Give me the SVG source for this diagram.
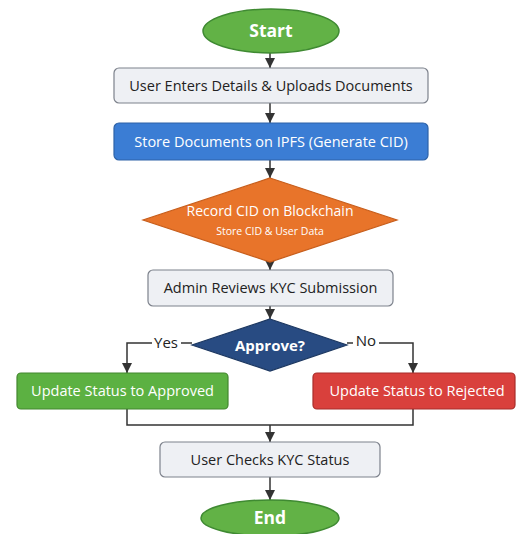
<svg xmlns="http://www.w3.org/2000/svg" width="517" height="534" viewBox="0 0 517 534">
<defs>
<marker id="ah" viewBox="0 0 10 10" refX="10" refY="5" markerWidth="10" markerHeight="10" markerUnits="userSpaceOnUse" orient="auto">
<path d="M0,0 L10,5 L0,10 z" fill="#333"/>
</marker>
</defs>
<style>
text{font-family:"Open Sans","Noto Sans","Liberation Sans",sans-serif;text-anchor:middle;}
.gray{fill:#eef0f4;stroke:#7d828c;stroke-width:1.2;}
.dark{fill:#222;font-size:14.5px;}
.white{fill:#fff;font-size:14.5px;}
.conn{fill:none;stroke:#333;stroke-width:1.5;}
.arr{marker-end:url(#ah);}
.oval{fill:#62b246;stroke:#3f8a32;stroke-width:1.5;}
</style>
<rect width="517" height="534" fill="#fff"/>
<g id="connectors">
<line class="conn arr" x1="270" y1="53" x2="270" y2="68"/>
<line class="conn arr" x1="270" y1="103" x2="270" y2="123"/>
<line class="conn arr" x1="270" y1="160" x2="270" y2="178"/>
<line class="conn arr" x1="270" y1="262" x2="270" y2="270"/>
<line class="conn arr" x1="270" y1="306" x2="270" y2="319"/>
<polyline class="conn" points="192,343 181,343"/>
<polyline class="conn arr" points="152,343 127,343 127,373"/>
<polyline class="conn" points="347,343 353,343"/>
<polyline class="conn arr" points="379,343 413,343 413,373"/>
<polyline class="conn" points="127,409 127,425 413,425 413,409"/>
<line class="conn arr" x1="270" y1="425" x2="270" y2="442"/>
<line class="conn arr" x1="270" y1="477" x2="270" y2="500"/>
<text x="166" y="348" class="dark" style="font-size:15px">Yes</text>
<text x="366" y="346" class="dark" style="font-size:15px">No</text>
</g>
<g id="start">
<ellipse class="oval" cx="271" cy="31" rx="68" ry="22"/>
<text x="271" y="37" style="fill:#fff;font-size:17.5px;font-weight:bold">Start</text>
</g>
<g id="enter">
<rect class="gray" x="114" y="68" width="314" height="35" rx="5"/>
<text x="271" y="90.5" class="dark">User Enters Details &amp; Uploads Documents</text>
</g>
<g id="ipfs">
<rect x="114" y="123" width="314" height="37" rx="5" fill="#3b7dd4" stroke="#2e63a8" stroke-width="1.2"/>
<text x="271" y="146.5" class="white">Store Documents on IPFS (Generate CID)</text>
</g>
<g id="record">
<polygon points="270,178 397,220 270,262 143,220" fill="#e8742a" stroke="#c75e1c" stroke-width="1.2"/>
<text x="270" y="216" class="white" style="font-size:14px">Record CID on Blockchain</text>
<text x="270" y="235" class="white" style="font-size:10.5px">Store CID &amp; User Data</text>
</g>
<g id="admin">
<rect class="gray" x="148" y="270" width="245" height="36" rx="5"/>
<text x="270.5" y="293" class="dark">Admin Reviews KYC Submission</text>
</g>
<g id="approve">
<polygon points="270,319 347,345 270,371 192,345" fill="#284b82" stroke="#1d3861" stroke-width="1.2"/>
<text x="270" y="351" class="white" style="font-size:15px;font-weight:bold">Approve?</text>
</g>
<g id="approved">
<rect x="17" y="373" width="211" height="36" rx="4" fill="#5cb142" stroke="#43872f" stroke-width="1.2"/>
<text x="122.5" y="396" class="white">Update Status to Approved</text>
</g>
<g id="rejected">
<rect x="313" y="373" width="202" height="36" rx="4" fill="#d9403c" stroke="#a82d2a" stroke-width="1.2"/>
<text x="417" y="396" class="white">Update Status to Rejected</text>
</g>
<g id="check">
<rect class="gray" x="160" y="442" width="220" height="35" rx="5"/>
<text x="270" y="464.5" class="dark">User Checks KYC Status</text>
</g>
<g id="end">
<ellipse class="oval" cx="270" cy="518" rx="69" ry="18"/>
<text x="270" y="524" style="fill:#fff;font-size:17.5px;font-weight:bold">End</text>
</g>
</svg>
